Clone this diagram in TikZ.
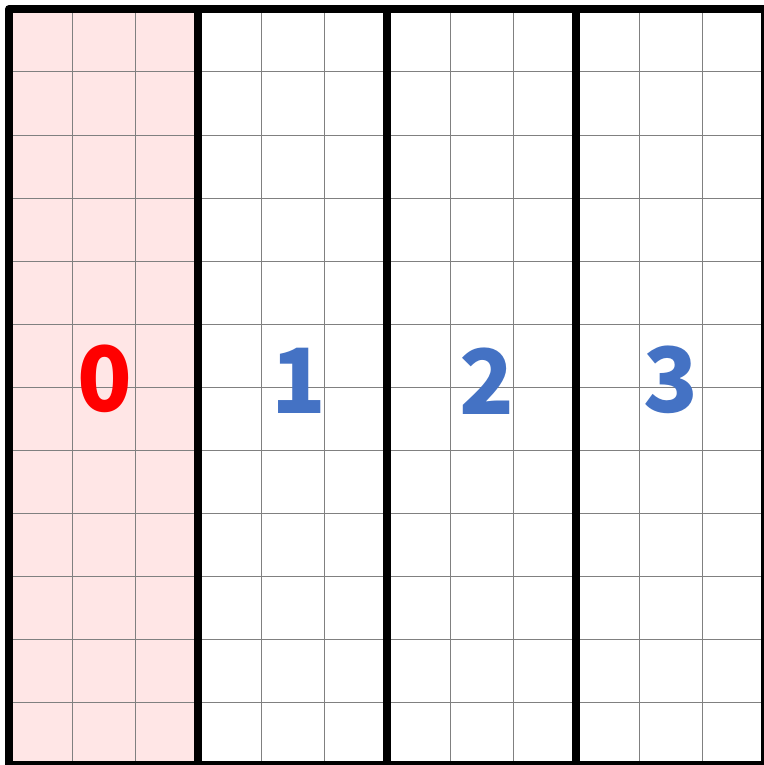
\documentclass[tikz,border=0pt]{standalone}
\usepackage{fontspec}
\setmainfont{Noto Sans CJK JP}
\definecolor{zonepink}{HTML}{FFE6E6}
\definecolor{partblue}{HTML}{4472C4}
\definecolor{partred}{HTML}{FF0000}

\begin{document}
\begin{tikzpicture}[
      x=1pt,
      y=-1pt,
      fine line/.style={draw=gray,line width=1pt},
      bold line/.style={draw=black,line width=8pt,line join=round},
      part/.style={inner sep=0pt,font=\bfseries\fontsize{90}{90}\selectfont,text=partblue}
    ]
    \useasboundingbox (0,0) rectangle (763,765);
    % shaded first block
    \fill[zonepink] (9,9) rectangle (198,765);
    % fine grid
    \foreach \i in {1,...,11} {
      \draw[fine line] (9+63*\i,9) -- (9+63*\i,765);
      \draw[fine line] (9,9+63*\i) -- (765,9+63*\i);
    }
    % block borders
    \draw[bold line] (9,9) rectangle (765,765);
    \foreach \x in {198,387,576}
      \draw[bold line] (\x,9) -- (\x,765);
    % block numbers
    \node (part0) [part,text=partred] at (105,379) {0};
    \node (part1) [part] at (299,381) {1};
    \node (part2) [part] at (487,381) {2};
    \node (part3) [part] at (671,380) {3};
  \end{tikzpicture}
\end{document}
